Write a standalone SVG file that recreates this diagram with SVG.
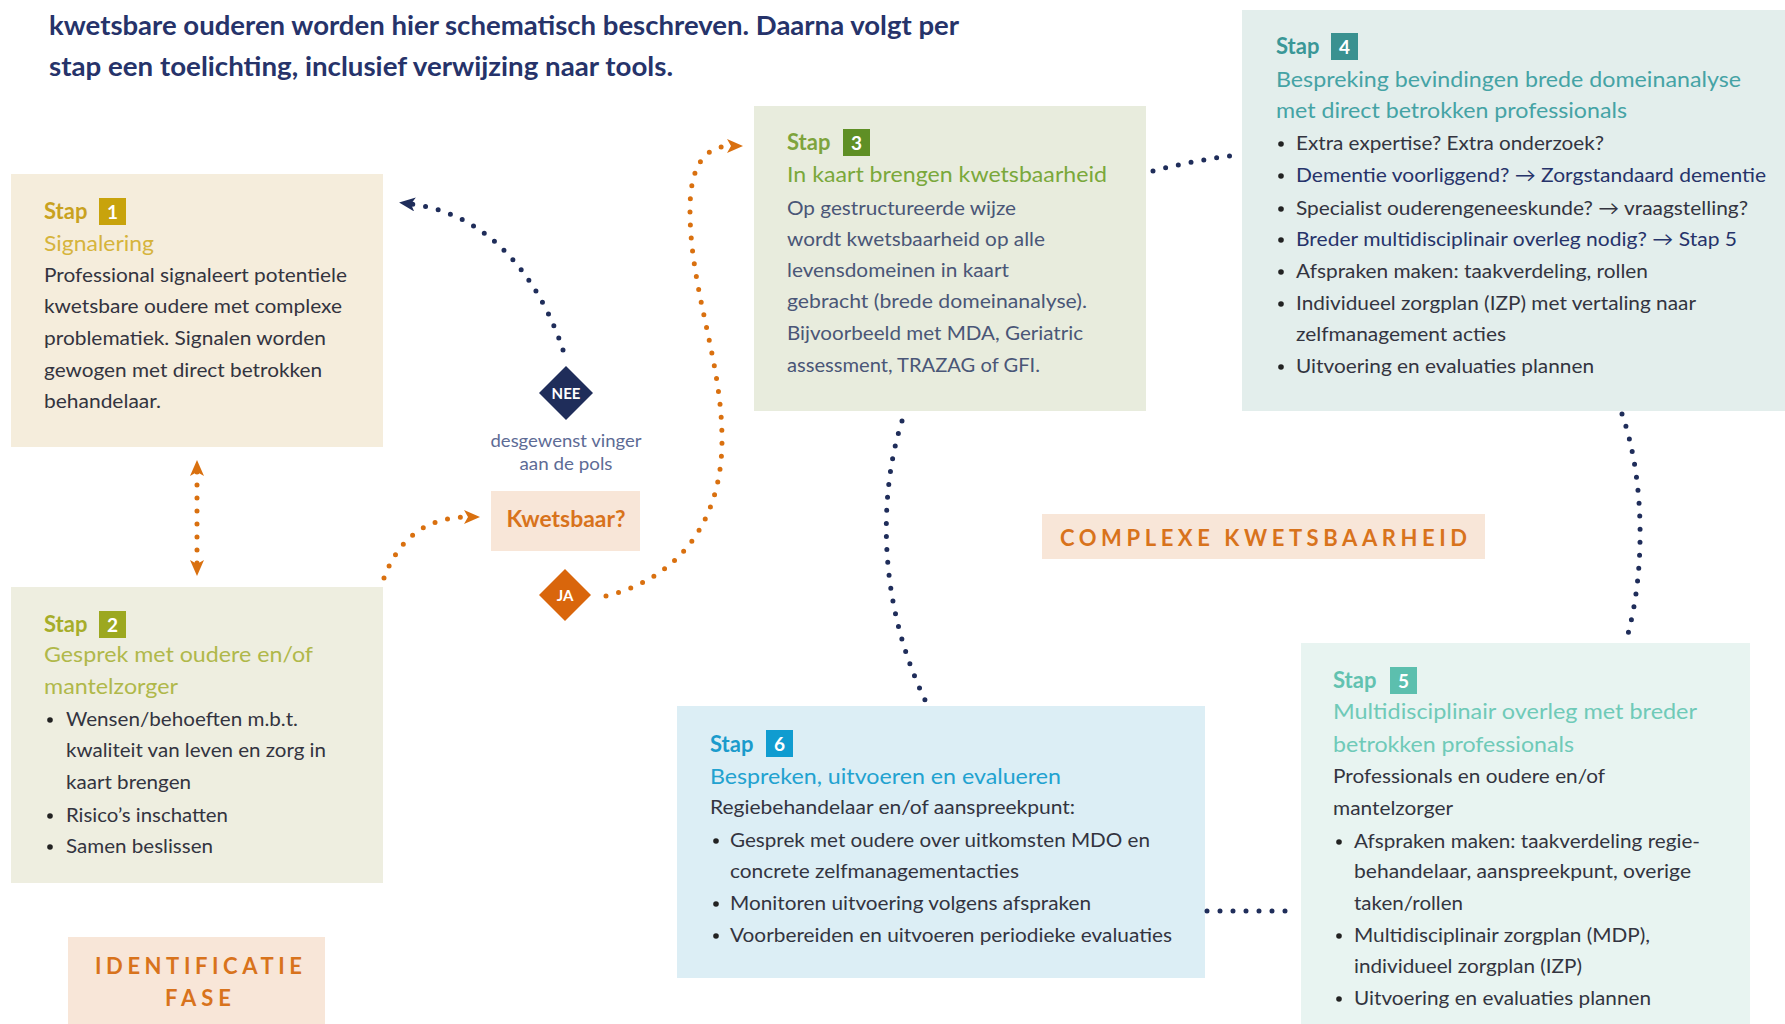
<svg xmlns="http://www.w3.org/2000/svg" width="1785" height="1024" viewBox="0 0 1785 1024">
<style>
text{font-family:Lato,'Liberation Sans',sans-serif}
.hdr{font-weight:700;font-size:26px;fill:#26336a}
.stap{font-weight:700;font-size:22px}
.num{font-weight:700;font-size:19px;fill:#fff;text-anchor:middle}
.ttl{font-size:22px}
.bd{font-size:19.5px;fill:#33343f}
.bd3{font-size:19.5px;fill:#4a5677}
.nv{fill:#26336a}
.bul{fill:#222}
.lbl{font-weight:700;fill:#d8731c}
.dn{fill:none;stroke:#1f2d5a;stroke-width:5;stroke-linecap:round;stroke-dasharray:0 13}
.do{fill:none;stroke:#d9700f;stroke-width:5;stroke-linecap:round;stroke-dasharray:0 13}
</style>
<defs>
<marker id="an" markerUnits="userSpaceOnUse" viewBox="0 0 16 14" refX="4" refY="7" markerWidth="16" markerHeight="14" orient="auto"><path d="M0,0 L16,7 L0,14 L4,7 Z" fill="#1f2d5a"/></marker>
<marker id="ao" markerUnits="userSpaceOnUse" viewBox="0 0 16 14" refX="4" refY="7" markerWidth="16" markerHeight="14" orient="auto"><path d="M0,0 L16,7 L0,14 L4,7 Z" fill="#d9700f"/></marker>
<marker id="aos" markerUnits="userSpaceOnUse" viewBox="0 0 16 14" refX="4" refY="7" markerWidth="16" markerHeight="14" orient="auto-start-reverse"><path d="M0,0 L16,7 L0,14 L4,7 Z" fill="#d9700f"/></marker>
</defs>
<rect width="1785" height="1024" fill="#fff"/>

<g id="header">
<text class="hdr" x="49" y="35" textLength="910" lengthAdjust="spacingAndGlyphs">kwetsbare ouderen worden hier schematisch beschreven. Daarna volgt per</text>
<text class="hdr" x="49" y="76" textLength="624" lengthAdjust="spacingAndGlyphs">stap een toelichting, inclusief verwijzing naar tools.</text>
</g>

<g id="stap1">
<rect x="11" y="174" width="372" height="273" fill="#f5eddc"/>
<text class="stap" x="44" y="219" fill="#c9a21f">Stap</text>
<rect x="99" y="198" width="27" height="27" fill="#c8a30c"/>
<text class="num" x="112.5" y="219">1</text>
<text class="ttl" x="44" y="251" fill="#d6b43c" textLength="110" lengthAdjust="spacingAndGlyphs">Signalering</text>
<text class="bd" x="44" y="282" textLength="303" lengthAdjust="spacingAndGlyphs">Professional signaleert potentiele</text>
<text class="bd" x="44" y="313" textLength="298" lengthAdjust="spacingAndGlyphs">kwetsbare oudere met complexe</text>
<text class="bd" x="44" y="345" textLength="282" lengthAdjust="spacingAndGlyphs">problematiek. Signalen worden</text>
<text class="bd" x="44" y="377" textLength="278" lengthAdjust="spacingAndGlyphs">gewogen met direct betrokken</text>
<text class="bd" x="44" y="408" textLength="117" lengthAdjust="spacingAndGlyphs">behandelaar.</text>
</g>

<g id="stap2">
<rect x="11" y="587" width="372" height="296" fill="#eeeee0"/>
<text class="stap" x="44" y="632" fill="#a6ad2a">Stap</text>
<rect x="99" y="611" width="27" height="27" fill="#9ca820"/>
<text class="num" x="112.5" y="632">2</text>
<text class="ttl" x="44" y="662" fill="#b0b84a" textLength="269" lengthAdjust="spacingAndGlyphs">Gesprek met oudere en/of</text>
<text class="ttl" x="44" y="694" fill="#b0b84a" textLength="134" lengthAdjust="spacingAndGlyphs">mantelzorger</text>
<circle class="bul" cx="50" cy="720" r="2.8"/>
<text class="bd" x="66" y="726" textLength="232" lengthAdjust="spacingAndGlyphs">Wensen/behoeften m.b.t.</text>
<text class="bd" x="66" y="757" textLength="260" lengthAdjust="spacingAndGlyphs">kwaliteit van leven en zorg in</text>
<text class="bd" x="66" y="789" textLength="125" lengthAdjust="spacingAndGlyphs">kaart brengen</text>
<circle class="bul" cx="50" cy="816" r="2.8"/>
<text class="bd" x="66" y="822" textLength="162" lengthAdjust="spacingAndGlyphs">Risico’s inschatten</text>
<circle class="bul" cx="50" cy="847" r="2.8"/>
<text class="bd" x="66" y="853" textLength="147" lengthAdjust="spacingAndGlyphs">Samen beslissen</text>
</g>

<g id="fase-identificatie">
<rect x="68" y="937" width="257" height="87" fill="#f8e6d8"/>
<text class="lbl" x="95" y="974" font-size="22" textLength="207" lengthAdjust="spacing">IDENTIFICATIE</text>
<text class="lbl" x="165" y="1006" font-size="22" textLength="66" lengthAdjust="spacing">FASE</text>
</g>

<g id="nee">
<polygon points="566,366 593,393 566,420 539,393" fill="#1f2d5a"/>
<text x="566" y="399" font-size="15" font-weight="700" fill="#fff" text-anchor="middle">NEE</text>
<text x="566" y="447" font-size="17" fill="#5d6b95" text-anchor="middle" textLength="151" lengthAdjust="spacingAndGlyphs">desgewenst vinger</text>
<text x="566" y="470" font-size="17" fill="#5d6b95" text-anchor="middle" textLength="93" lengthAdjust="spacingAndGlyphs">aan de pols</text>
</g>

<g id="kwetsbaar">
<rect x="491" y="491" width="149" height="60" fill="#f8e6d8"/>
<text class="lbl" x="566" y="527" font-size="23" text-anchor="middle" textLength="119" lengthAdjust="spacingAndGlyphs">Kwetsbaar?</text>
</g>

<g id="ja">
<polygon points="565,569 591,595 565,621 539,595" fill="#d9660c"/>
<text x="565" y="601" font-size="15" font-weight="700" fill="#fff" text-anchor="middle">JA</text>
</g>

<g id="stap3">
<rect x="754" y="106" width="392" height="305" fill="#e8ecdd"/>
<text class="stap" x="787" y="150" fill="#7ea43c">Stap</text>
<rect x="843" y="129" width="27" height="27" fill="#5f8f25"/>
<text class="num" x="856.5" y="150">3</text>
<text class="ttl" x="787" y="182" fill="#7aa83a" textLength="320" lengthAdjust="spacingAndGlyphs">In kaart brengen kwetsbaarheid</text>
<text class="bd3" x="787" y="215" textLength="229" lengthAdjust="spacingAndGlyphs">Op gestructureerde wijze</text>
<text class="bd3" x="787" y="246" textLength="258" lengthAdjust="spacingAndGlyphs">wordt kwetsbaarheid op alle</text>
<text class="bd3" x="787" y="277" textLength="222" lengthAdjust="spacingAndGlyphs">levensdomeinen in kaart</text>
<text class="bd3" x="787" y="308" textLength="300" lengthAdjust="spacingAndGlyphs">gebracht (brede domeinanalyse).</text>
<text class="bd3" x="787" y="340" textLength="296" lengthAdjust="spacingAndGlyphs">Bijvoorbeeld met MDA, Geriatric</text>
<text class="bd3" x="787" y="372" textLength="253" lengthAdjust="spacingAndGlyphs">assessment, TRAZAG of GFI.</text>
</g>

<g id="stap4">
<rect x="1242" y="10" width="543" height="401" fill="#e3eeec"/>
<text class="stap" x="1276" y="54" fill="#3a9797">Stap</text>
<rect x="1331" y="33" width="27" height="27" fill="#3a9190"/>
<text class="num" x="1344.5" y="54">4</text>
<text class="ttl" x="1276" y="87" fill="#45a3a5" textLength="465" lengthAdjust="spacingAndGlyphs">Bespreking bevindingen brede domeinanalyse</text>
<text class="ttl" x="1276" y="118" fill="#45a3a5" textLength="351" lengthAdjust="spacingAndGlyphs">met direct betrokken professionals</text>
<circle class="bul" cx="1281" cy="144" r="2.8"/>
<text class="bd" x="1296" y="150" textLength="308" lengthAdjust="spacingAndGlyphs">Extra expertise? Extra onderzoek?</text>
<circle class="bul" cx="1281" cy="176" r="2.8"/>
<text class="bd nv" x="1296" y="182" textLength="470" lengthAdjust="spacingAndGlyphs">Dementie voorliggend? → Zorgstandaard dementie</text>
<circle class="bul" cx="1281" cy="209" r="2.8"/>
<text class="bd" x="1296" y="215" textLength="452" lengthAdjust="spacingAndGlyphs">Specialist ouderengeneeskunde? → vraagstelling?</text>
<circle class="bul" cx="1281" cy="240" r="2.8"/>
<text class="bd nv" x="1296" y="246" textLength="441" lengthAdjust="spacingAndGlyphs">Breder multidisciplinair overleg nodig? → Stap 5</text>
<circle class="bul" cx="1281" cy="272" r="2.8"/>
<text class="bd" x="1296" y="278" textLength="352" lengthAdjust="spacingAndGlyphs">Afspraken maken: taakverdeling, rollen</text>
<circle class="bul" cx="1281" cy="304" r="2.8"/>
<text class="bd" x="1296" y="310" textLength="400" lengthAdjust="spacingAndGlyphs">Individueel zorgplan (IZP) met vertaling naar</text>
<text class="bd" x="1296" y="341" textLength="210" lengthAdjust="spacingAndGlyphs">zelfmanagement acties</text>
<circle class="bul" cx="1281" cy="367" r="2.8"/>
<text class="bd" x="1296" y="373" textLength="298" lengthAdjust="spacingAndGlyphs">Uitvoering en evaluaties plannen</text>
</g>

<g id="fase-complex">
<rect x="1042" y="514" width="443" height="45" fill="#f8e6d8"/>
<text class="lbl" x="1060" y="546" font-size="22" textLength="407" lengthAdjust="spacing">COMPLEXE KWETSBAARHEID</text>
</g>

<g id="stap5">
<rect x="1301" y="643" width="449" height="381" fill="#e8f4f1"/>
<text class="stap" x="1333" y="688" fill="#62c2b0">Stap</text>
<rect x="1390" y="667" width="27" height="27" fill="#5cbfae"/>
<text class="num" x="1403.5" y="688">5</text>
<text class="ttl" x="1333" y="719" fill="#6fcab8" textLength="364" lengthAdjust="spacingAndGlyphs">Multidisciplinair overleg met breder</text>
<text class="ttl" x="1333" y="752" fill="#6fcab8" textLength="241" lengthAdjust="spacingAndGlyphs">betrokken professionals</text>
<text class="bd" x="1333" y="783" textLength="272" lengthAdjust="spacingAndGlyphs">Professionals en oudere en/of</text>
<text class="bd" x="1333" y="815" textLength="120" lengthAdjust="spacingAndGlyphs">mantelzorger</text>
<circle class="bul" cx="1339" cy="842" r="2.8"/>
<text class="bd" x="1354" y="848" textLength="346" lengthAdjust="spacingAndGlyphs">Afspraken maken: taakverdeling regie-</text>
<text class="bd" x="1354" y="878" textLength="337" lengthAdjust="spacingAndGlyphs">behandelaar, aanspreekpunt, overige</text>
<text class="bd" x="1354" y="910" textLength="109" lengthAdjust="spacingAndGlyphs">taken/rollen</text>
<circle class="bul" cx="1339" cy="936" r="2.8"/>
<text class="bd" x="1354" y="942" textLength="296" lengthAdjust="spacingAndGlyphs">Multidisciplinair zorgplan (MDP),</text>
<text class="bd" x="1354" y="973" textLength="228" lengthAdjust="spacingAndGlyphs">individueel zorgplan (IZP)</text>
<circle class="bul" cx="1339" cy="999" r="2.8"/>
<text class="bd" x="1354" y="1005" textLength="297" lengthAdjust="spacingAndGlyphs">Uitvoering en evaluaties plannen</text>
</g>

<g id="stap6">
<rect x="677" y="706" width="528" height="272" fill="#dceef5"/>
<text class="stap" x="710" y="752" fill="#1a9bcc">Stap</text>
<rect x="766" y="730" width="27" height="27" fill="#109cd0"/>
<text class="num" x="779.5" y="751">6</text>
<text class="ttl" x="710" y="784" fill="#22a2d0" textLength="351" lengthAdjust="spacingAndGlyphs">Bespreken, uitvoeren en evalueren</text>
<text class="bd" x="710" y="814" textLength="365" lengthAdjust="spacingAndGlyphs">Regiebehandelaar en/of aanspreekpunt:</text>
<circle class="bul" cx="716" cy="841" r="2.8"/>
<text class="bd" x="730" y="847" textLength="420" lengthAdjust="spacingAndGlyphs">Gesprek met oudere over uitkomsten MDO en</text>
<text class="bd" x="730" y="878" textLength="289" lengthAdjust="spacingAndGlyphs">concrete zelfmanagementacties</text>
<circle class="bul" cx="716" cy="904" r="2.8"/>
<text class="bd" x="730" y="910" textLength="361" lengthAdjust="spacingAndGlyphs">Monitoren uitvoering volgens afspraken</text>
<circle class="bul" cx="716" cy="936" r="2.8"/>
<text class="bd" x="730" y="942" textLength="442" lengthAdjust="spacingAndGlyphs">Voorbereiden en uitvoeren periodieke evaluaties</text>
</g>

<g id="connectors">
<path class="do" d="M197,472 L197,564" marker-start="url(#aos)" marker-end="url(#aos)"/>
<path class="dn" d="M563,350 C545,295 500,215 411,204" marker-end="url(#an)"/>
<path class="do" d="M384,578 C398,540 425,517 468,517" marker-end="url(#ao)"/>
<path class="do" d="M606,596 C680,578 722,520 722,440 C722,360 690,290 690,210 C690,165 705,146 731,146" marker-end="url(#ao)"/>
<path class="dn" d="M1153,171 Q1195,160 1238,155"/>
<path class="dn" d="M902,421 C880,490 875,600 928,706"/>
<path class="dn" d="M1622,414 C1645,480 1645,570 1628,634"/>
<path class="dn" d="M1207,911 L1295,911"/>
</g>
</svg>
